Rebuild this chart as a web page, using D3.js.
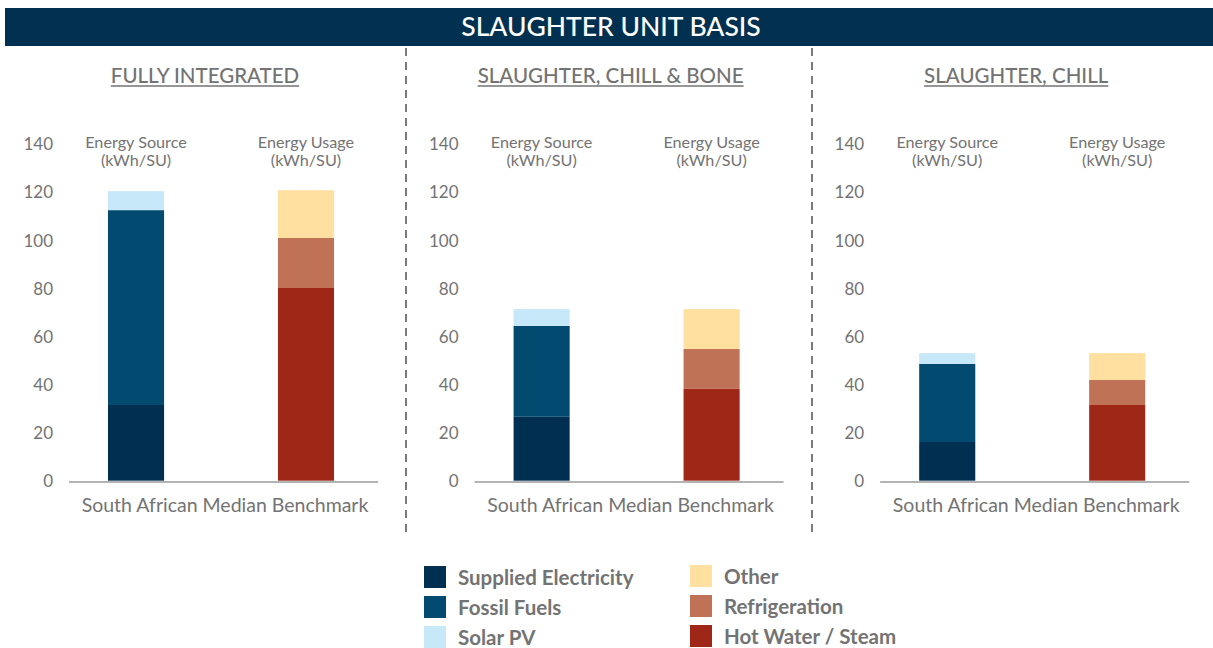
<!DOCTYPE html>
<html>
<head>
<meta charset="utf-8">
<script src="https://cdn.jsdelivr.net/npm/d3@7"></script>
<style>
  body { margin: 0; background: #fff; }
  svg text { font-family: Lato, "Open Sans", sans-serif; }
</style>
</head>
<body>
<svg id="chart" width="1213" height="648"></svg>
<script>
// panels, in order left to right
var panelTitles = ["FULLY INTEGRATED", "SLAUGHTER, CHILL & BONE", "SLAUGHTER, CHILL "];
var barNames = ["Energy Source", "Energy Usage"];
var categoryLabel = "South African Median Benchmark";
var yTicks = [0, 20, 40, 60, 80, 100, 120, 140];

// energy source (kWh/SU), one value per panel
var suppliedElectricity = [31.5, 26.6, 16.1];
var fossilFuels = [81.1, 37.8, 32.5];
var solarPV = [7.9, 7.0, 4.5];

// energy usage (kWh/SU), one value per panel
var hotWaterSteam = [80.2, 38.2, 31.5];
var refrigeration = [20.8, 16.6, 10.4];
var otherUsage = [19.9, 16.6, 11.2];

var sourceKeys = ["Supplied Electricity", "Fossil Fuels", "Solar PV"];
var usageKeys = ["Hot Water / Steam", "Refrigeration", "Other"];
var colors = {
  "Supplied Electricity": "#002f52",
  "Fossil Fuels": "#034a70",
  "Solar PV": "#c7e8f8",
  "Hot Water / Steam": "#9e2718",
  "Refrigeration": "#c07256",
  "Other": "#ffe0a0"
};

var svg = d3.select("#chart");
var grey = "#737373";

// header band
svg.append("rect").attr("x", 5).attr("y", 8).attr("width", 1208).attr("height", 38).attr("fill", "#013050");
svg.append("text").attr("x", 611).attr("y", 36).attr("text-anchor", "middle")
  .attr("fill", "#fff").attr("font-size", 26.5).attr("font-weight", 500)
  .text("SLAUGHTER UNIT BASIS");

// dashed dividers
[406, 812].forEach(function (x) {
  svg.append("line").attr("x1", x).attr("x2", x).attr("y1", 48).attr("y2", 532)
    .attr("stroke", "#7a7a7a").attr("stroke-width", 2).attr("stroke-dasharray", "8,6");
});

var y = d3.scaleLinear().domain([0, 140]).range([480.7, 144.3]);

var panelW = 405.6;
for (var p = 0; p < 3; p++) {
  var left = 5 + p * panelW;
  var g = svg.append("g").attr("transform", "translate(" + left + ",0)");

  // panel title with underline
  var t = g.append("text").attr("x", 200).attr("y", 83).attr("text-anchor", "middle")
    .attr("fill", grey).attr("font-size", 20.5).attr("font-weight", 500).text(panelTitles[p]);
  var tw = t.node().getComputedTextLength();
  g.append("line").attr("x1", 200 - tw / 2).attr("x2", 200 + tw / 2).attr("y1", 86).attr("y2", 86)
    .attr("stroke", grey).attr("stroke-width", 1.3);

  var x = d3.scaleBand().domain(barNames).range([64, 373]).paddingInner(0.67).paddingOuter(0.244).align(0.47);

  // y axis, labels only
  var ax = g.append("g").attr("transform", "translate(48,0)")
    .call(d3.axisLeft(y).tickValues(yTicks).tickSize(0).tickPadding(0));
  ax.select(".domain").remove();
  ax.selectAll("text").attr("fill", grey).attr("font-size", 17).attr("dy", "0.33em");

  // bar headings
  barNames.forEach(function (n) {
    var cx = x(n) + x.bandwidth() / 2;
    g.append("text").attr("x", cx).attr("y", 147.5).attr("text-anchor", "middle")
      .attr("fill", grey).attr("font-size", 16.2).text(n);
    g.append("text").attr("x", cx).attr("y", 166).attr("text-anchor", "middle")
      .attr("fill", grey).attr("font-size", 16.2).text("(kWh/SU)");
  });

  var row = {
    "Supplied Electricity": suppliedElectricity[p], "Fossil Fuels": fossilFuels[p], "Solar PV": solarPV[p],
    "Hot Water / Steam": hotWaterSteam[p], "Refrigeration": refrigeration[p], "Other": otherUsage[p]
  };
  [[barNames[0], sourceKeys], [barNames[1], usageKeys]].forEach(function (b) {
    var series = d3.stack().keys(b[1])([row]);
    g.selectAll(null).data(series).enter().append("rect")
      .attr("x", x(b[0])).attr("width", x.bandwidth())
      .attr("y", function (s) { return y(s[0][1]); })
      .attr("height", function (s) { return y(s[0][0]) - y(s[0][1]); })
      .attr("fill", function (s) { return colors[s.key]; });
  });

  // baseline
  g.append("line").attr("x1", 64).attr("x2", 373).attr("y1", 482).attr("y2", 482)
    .attr("stroke", "#9a9a9a").attr("stroke-width", 1.5);
  g.append("text").attr("x", 220).attr("y", 512).attr("text-anchor", "middle")
    .attr("fill", grey).attr("font-size", 19.5).text(categoryLabel);
}

// legend
var legendCols = [sourceKeys, usageKeys.slice().reverse()];
legendCols.forEach(function (keys, c) {
  keys.forEach(function (k, i) {
    var lx = 424 + c * 266, ly = 566 + i * 30 - c;
    svg.append("rect").attr("x", lx).attr("y", ly).attr("width", 22).attr("height", 22).attr("fill", colors[k]);
    svg.append("text").attr("x", lx + 34).attr("y", ly + 18.5).attr("fill", grey)
      .attr("font-size", 20.5).attr("font-weight", 700).text(k);
  });
});
</script>
</body>
</html>
